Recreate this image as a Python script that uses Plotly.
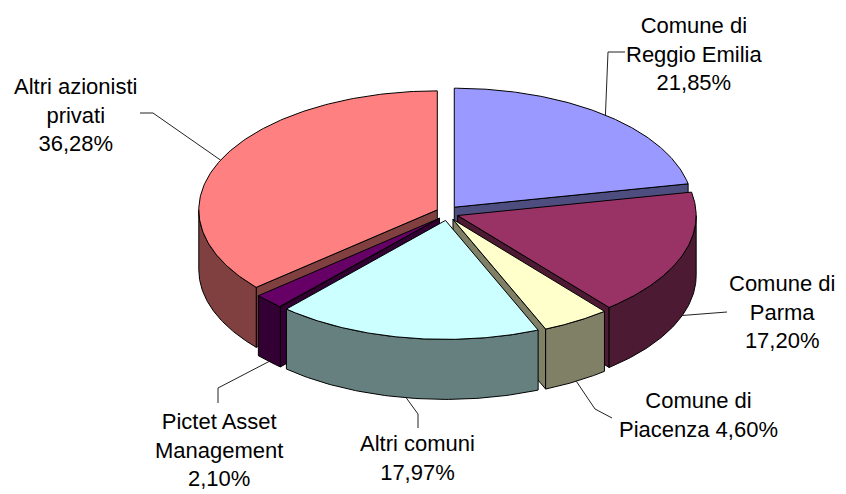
import numpy as np
import plotly.graph_objects as go

# --- data -------------------------------------------------------------
names = ["Comune di Reggio Emilia", "Comune di Parma", "Comune di Piacenza",
         "Altri comuni", "Pictet Asset Management", "Altri azionisti privati"]
values = [21.85, 17.20, 4.60, 17.97, 2.10, 36.28]
label_lines = ["Comune di<br>Reggio Emilia<br>21,85%", "Comune di<br>Parma<br>17,20%",
               "Comune di<br>Piacenza 4,60%", "Altri comuni<br>17,97%",
               "Pictet Asset<br>Management<br>2,10%", "Altri azionisti<br>privati<br>36,28%"]
top_colors = ["#9999FF", "#993366", "#FFFFCC", "#CCFFFF", "#660066", "#FF8080"]
side_colors = ["#4D4D80", "#4D1A33", "#808066", "#668080", "#330033", "#804040"]

# --- layout of the drawing --------------------------------------------
W, H = 846, 494
CX, CY = 447.3, 213.0    # pie centre
A, B = 238.5, 119.0      # ellipse semi-axes
DEPTH = 60.0             # extrusion
EX, EY = 11.0, 7.5       # explosion offsets
draw_order = [0, 5, 1, 4, 2, 3]
label_pos = [(694, 54), (782, 312), (698, 415), (417, 458), (219, 450), (75, 115)]
leader_mid = [(608, 52), (None, None), (595, 409), (418, 414), (218, 388), (153, 113)]
leader_end = [(625, 52), (727, 312), (612, 418), (418, 428), (218, 403), (140, 113)]

fractions = np.array(values) / sum(values)
edges = np.concatenate([[0], np.cumsum(fractions)]) * 2 * np.pi

fig = go.Figure()


def poly(xs, ys, fill, name):
    fig.add_trace(go.Scatter(x=list(xs), y=list(ys), mode="lines", fill="toself",
                             fillcolor=fill, line=dict(color="black", width=1),
                             name=name, hoverinfo="name", showlegend=False))


for i in draw_order:
    t0, t1 = edges[i], edges[i + 1]
    tm = (t0 + t1) / 2
    ax = CX + EX * np.sin(tm)
    ay = CY - EY * np.cos(tm)
    px = lambda t: ax + A * np.sin(t)
    py = lambda t: ay - B * np.cos(t)
    # visible cut faces
    for t, visible in ((t0, np.sin(t0) < 0), (t1, np.sin(t1) > 0)):
        if visible:
            poly([ax, px(t), px(t), ax, ax],
                 [ay, py(t), py(t) + DEPTH, ay + DEPTH, ay], side_colors[i], names[i])
    # outer wall (front half only)
    lo, hi = max(t0, np.pi / 2), min(t1, 1.5 * np.pi)
    if lo < hi:
        ts = np.linspace(lo, hi, 80)
        poly(np.r_[px(ts), px(ts)[::-1], px(ts[0])],
             np.r_[py(ts), py(ts)[::-1] + DEPTH, py(ts[0])], side_colors[i], names[i])
    # top face
    ts = np.linspace(t0, t1, 160)
    poly(np.r_[ax, px(ts), ax], np.r_[ay, py(ts), ay], top_colors[i], names[i])
    # leader line, starting on the slice at its mid-angle
    sx, sy = px(tm), py(tm) + (DEPTH if np.pi / 2 < tm < 1.5 * np.pi else 0)
    mx, my = leader_mid[i]
    ex, ey = leader_end[i]
    lx = [sx] + ([mx] if mx is not None else []) + [ex]
    ly = [sy] + ([my] if my is not None else []) + [ey]
    fig.add_trace(go.Scatter(x=lx, y=ly, mode="lines", line=dict(color="#222222", width=1),
                             hoverinfo="skip", showlegend=False))

for txt, (lx, ly) in zip(label_lines, label_pos):
    fig.add_annotation(x=lx, y=ly, text=txt, showarrow=False, xanchor="center", yanchor="middle",
                       align="center", font=dict(family="Liberation Sans, Arial", size=22, color="black"))

fig.update_layout(width=W, height=H, margin=dict(l=0, r=0, t=0, b=0),
                  paper_bgcolor="white", plot_bgcolor="white", showlegend=False,
                  xaxis=dict(range=[0, W], visible=False, fixedrange=True),
                  yaxis=dict(range=[H, 0], visible=False, fixedrange=True))
fig.write_html("out.html", config={"displayModeBar": False},
               post_script="document.body.style.margin='0';document.body.style.overflow='hidden';")
